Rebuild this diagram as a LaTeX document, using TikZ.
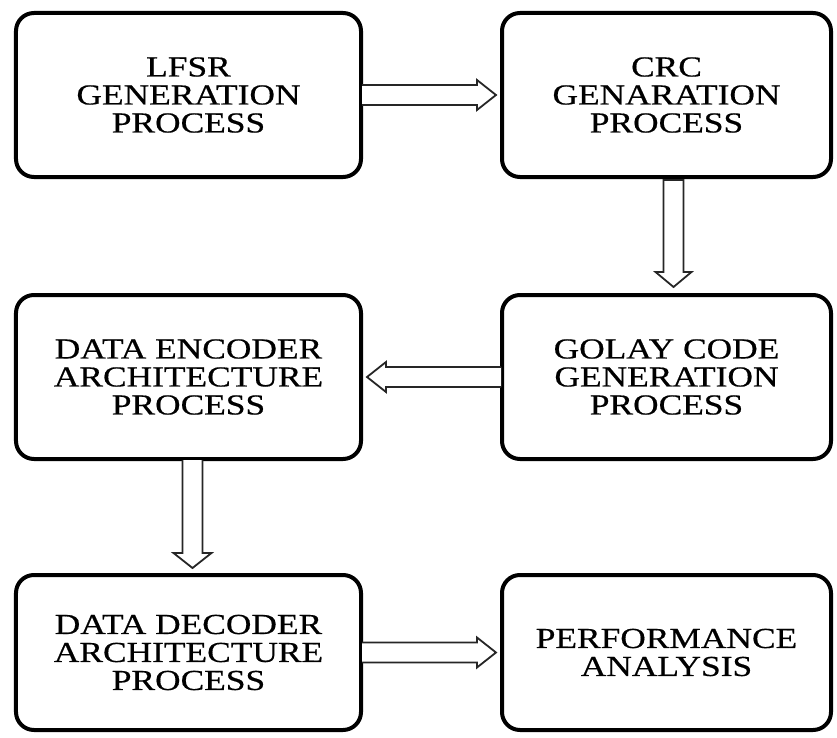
\documentclass[tikz,border=0pt]{standalone}
\usepackage{fontspec}
\setmainfont{Liberation Serif}[FakeStretch=1.22,FakeBold=0.5]
\usetikzlibrary{calc}
\tikzset{
  box/.style={draw=black, line width=4bp, rounded corners=18bp, align=center,
    font=\fontsize{29bp}{28bp}\selectfont, inner sep=0pt},
  harr/.style={draw=black!85, line width=1.8bp, line join=miter, fill=white}
}
\begin{document}
\begin{tikzpicture}[x=1bp,y=-1bp]
\useasboundingbox (0,0) rectangle (837,738);
\node[box, minimum width=345bp, minimum height=164bp] (lfsr) at (188.5,95) {LFSR\\GENERATION\\PROCESS};
\node[box, minimum width=329bp, minimum height=164bp] (crc) at (666.5,95) {CRC\\GENARATION\\PROCESS};
\node[box, minimum width=345bp, minimum height=164bp] (enc) at (188.5,377) {DATA ENCODER\\ARCHITECTURE\\PROCESS};
\node[box, minimum width=329bp, minimum height=164bp] (golay) at (666.5,377) {GOLAY CODE\\GENERATION\\PROCESS};
\node[box, minimum width=345bp, minimum height=155bp] (dec) at (188.5,652.5) {DATA DECODER\\ARCHITECTURE\\PROCESS};
\node[box, minimum width=329bp, minimum height=155bp] (perf) at (666.5,652.5) {PERFORMANCE\\ANALYSIS};
% right arrow lfsr -> crc
\draw[harr] ($(lfsr.east)+(-1,-10)$) -- ($(crc.west)+(-23,-10)$) -- ($(crc.west)+(-23,-15)$) -- ($(crc.west)+(-4,0)$) -- ($(crc.west)+(-23,15)$) -- ($(crc.west)+(-23,10)$) -- ($(lfsr.east)+(-1,10)$);
% down arrow crc -> golay
\draw[harr] ($(crc.south)+(-3,1)$) -- ($(golay.north)+(-3,-21)$) -- ($(golay.north)+(-11,-21)$) -- ($(golay.north)+(7,-6)$) -- ($(golay.north)+(25,-21)$) -- ($(golay.north)+(17,-21)$) -- ($(crc.south)+(17,1)$) -- cycle;
% left arrow golay -> enc
\draw[harr] ($(golay.west)+(1,-10)$) -- ($(enc.east)+(23,-10)$) -- ($(enc.east)+(23,-15)$) -- ($(enc.east)+(4,0)$) -- ($(enc.east)+(23,15)$) -- ($(enc.east)+(23,10)$) -- ($(golay.west)+(1,10)$);
% down arrow enc -> dec
\draw[harr] ($(enc.south)+(-6,-1)$) -- ($(dec.north)+(-6,-20)$) -- ($(dec.north)+(-15,-20)$) -- ($(dec.north)+(4,-5)$) -- ($(dec.north)+(23,-20)$) -- ($(dec.north)+(14,-20)$) -- ($(enc.south)+(14,-1)$);
% right arrow dec -> perf
\draw[harr] ($(dec.east)+(-1,-10)$) -- ($(perf.west)+(-23,-10)$) -- ($(perf.west)+(-23,-15)$) -- ($(perf.west)+(-4,0)$) -- ($(perf.west)+(-23,15)$) -- ($(perf.west)+(-23,10)$) -- ($(dec.east)+(-1,10)$);
\end{tikzpicture}
\end{document}
